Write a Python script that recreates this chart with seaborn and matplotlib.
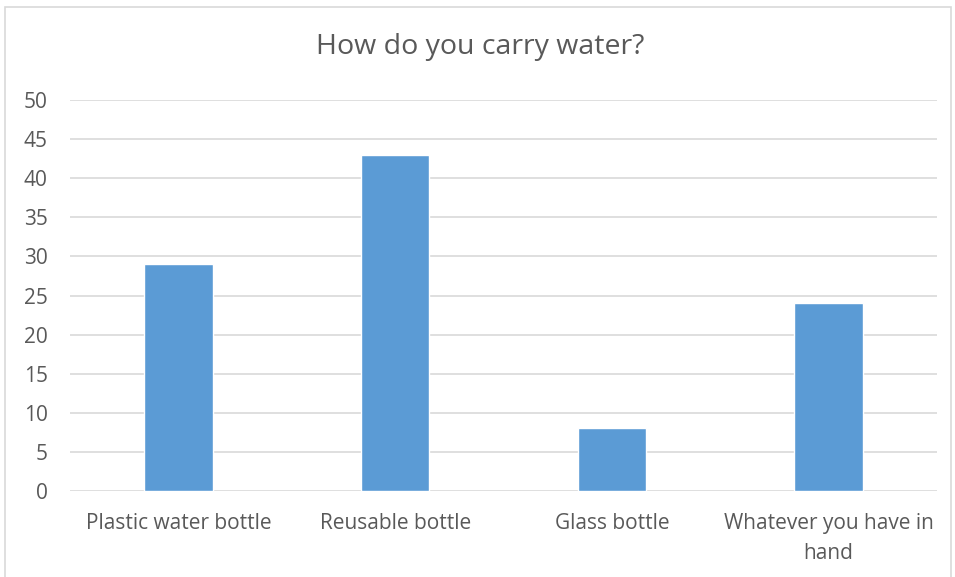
import matplotlib
matplotlib.use("Agg")
from matplotlib import pyplot as plt
import seaborn as sns
import pandas as pd

categories = ["Plastic water bottle", "Reusable bottle", "Glass bottle", "Whatever you have in\nhand"]
counts = [29, 43, 8, 24]
yticks = [0, 5, 10, 15, 20, 25, 30, 35, 40, 45, 50]

sns.set_style("white")
plt.rcParams["font.family"] = ["Open Sans", "DejaVu Sans"]

df = pd.DataFrame({"carry": categories, "count": counts})

fig = plt.figure(figsize=(9.55, 5.77), dpi=100)
ax = fig.add_axes([70 / 955, 1 - 491 / 577, 867 / 955, 391 / 577])

sns.barplot(data=df, x="carry", y="count", color="#5B9BD5", saturation=1,
            width=0.315, ax=ax, zorder=3)

ax.set_ylim(0, 50)
ax.set_xlim(-0.5, 3.5)
ax.set_yticks(yticks)
ax.yaxis.grid(True, color="#D9D9D9", linewidth=1.2, zorder=0)
ax.set_axisbelow(True)
for s in ax.spines.values():
    s.set_visible(False)
ax.tick_params(axis="both", length=0, labelsize=15, labelcolor="#595959")
ax.tick_params(axis="y", pad=16)
ax.tick_params(axis="x", pad=16)
for lbl in ax.get_xticklabels():
    lbl.set_linespacing(1.55)
ax.set_xlabel("")
ax.set_ylabel("")

fig.text(0.5 + 3 / 955, 1 - 47 / 577, "How do you carry water?", ha="center", va="center",
         fontsize=20.5, color="#595959")

# outer chart border
border = plt.Rectangle((5 / 955, -0.01), 946 / 955, 1 - 7 / 577 + 0.01,
                       transform=fig.transFigure, fill=False,
                       edgecolor="#D9D9D9", linewidth=1.2)
fig.patches.append(border)

fig.savefig("out.png", dpi=100)
